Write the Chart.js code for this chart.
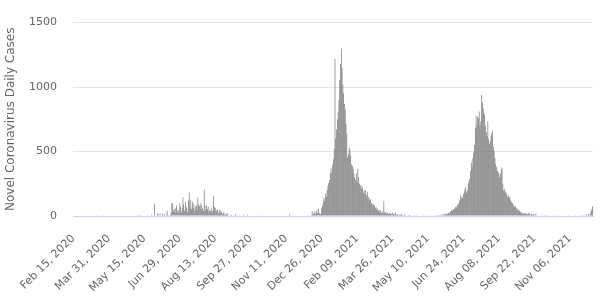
<!DOCTYPE html>
<html>
<head>
<meta charset="utf-8">
<script src="https://cdn.jsdelivr.net/npm/chart.js@4/dist/chart.umd.min.js"></script>
<style>
  html, body { margin: 0; padding: 0; background: #fff; }
  #wrap { width: 610px; height: 299px; }
</style>
</head>
<body>
<div id="wrap"><canvas id="casesChart" width="610" height="299"></canvas></div>
<script>
// first day of the series, one bar per day after it
const startDate = new Date(2020, 1, 15);

const tickLabels = ["Feb 15, 2020", "Mar 31, 2020", "May 15, 2020", "Jun 29, 2020", "Aug 13, 2020",
  "Sep 27, 2020", "Nov 11, 2020", "Dec 26, 2020", "Feb 09, 2021", "Mar 26, 2021", "May 10, 2021",
  "Jun 24, 2021", "Aug 08, 2021", "Sep 22, 2021", "Nov 06, 2021"];

const yTicks = [0, 500, 1000, 1500];

// daily cases, 10 days per row
const dailyCases = [
  0, 0, 0, 0, 0, 0, 0, 0, 0, 0,
  0, 0, 0, 0, 0, 0, 0, 0, 0, 0,
  0, 0, 0, 0, 0, 0, 0, 0, 0, 0,
  0, 1, 0, 0, 0, 0, 0, 0, 2, 0,
  0, 0, 0, 1, 0, 0, 0, 0, 0, 0,
  0, 0, 0, 0, 1, 0, 0, 0, 0, 0,
  0, 0, 0, 0, 0, 0, 2, 0, 0, 0,
  0, 0, 0, 0, 0, 0, 0, 1, 0, 0,
  0, 0, 2, 8, 0, 0, 1, 0, 0, 0,
  0, 0, 0, 0, 1, 0, 0, 0, 3, 10,
  0, 2, 4, 97, 3, 0, 2, 20, 12, 4,
  20, 6, 4, 20, 5, 8, 18, 4, 10, 41,
  5, 8, 3, 10, 25, 100, 95, 40, 55, 30,
  60, 84, 35, 46, 20, 99, 70, 30, 60, 145,
  90, 40, 110, 75, 61, 30, 120, 183, 70, 122,
  55, 110, 60, 92, 40, 70, 84, 50, 145, 90,
  75, 99, 50, 84, 60, 40, 206, 80, 45, 84,
  55, 69, 30, 46, 38, 61, 25, 40, 153, 70,
  61, 30, 45, 50, 20, 40, 46, 25, 33, 15,
  20, 33, 10, 12, 20, 8, 20, 5, 3, 6,
  10, 2, 4, 0, 3, 2, 15, 0, 2, 0,
  0, 1, 0, 0, 0, 0, 12, 0, 0, 0,
  0, 10, 0, 0, 2, 0, 0, 0, 0, 0,
  0, 0, 0, 1, 0, 0, 0, 0, 0, 0,
  0, 0, 2, 0, 0, 0, 0, 0, 0, 0,
  0, 0, 0, 0, 0, 1, 0, 0, 0, 0,
  0, 0, 0, 0, 0, 0, 0, 0, 2, 0,
  0, 0, 0, 0, 15, 0, 0, 0, 0, 0,
  0, 0, 0, 0, 0, 1, 0, 0, 0, 0,
  0, 0, 0, 0, 0, 0, 0, 0, 2, 0,
  0, 2, 5, 38, 10, 22, 30, 15, 33, 45,
  20, 54, 25, 15, 15, 60, 80, 110, 140, 120,
  175, 150, 200, 230, 255, 280, 330, 370, 340, 400,
  440, 520, 1219, 600, 673, 750, 811, 900, 1056, 1180,
  1300, 1150, 1018, 950, 870, 826, 711, 640, 454, 480,
  530, 510, 467, 400, 390, 367, 330, 300, 280, 329,
  260, 367, 300, 252, 230, 240, 210, 224, 180, 200,
  170, 199, 160, 186, 140, 148, 120, 130, 100, 99,
  80, 90, 84, 60, 70, 50, 59, 40, 45, 30,
  46, 25, 35, 20, 115, 30, 25, 20, 30, 22,
  15, 25, 18, 20, 12, 25, 15, 10, 20, 28,
  8, 15, 10, 5, 12, 8, 20, 6, 10, 4,
  12, 8, 3, 6, 0, 5, 2, 8, 0, 4,
  3, 0, 6, 2, 0, 5, 0, 3, 0, 0,
  4, 0, 0, 2, 0, 6, 0, 0, 3, 0,
  0, 5, 0, 2, 0, 0, 4, 0, 3, 6,
  2, 0, 5, 8, 3, 6, 10, 4, 12, 8,
  15, 10, 18, 12, 20, 15, 25, 20, 30, 35,
  46, 40, 55, 50, 59, 70, 65, 80, 97, 90,
  120, 161, 130, 150, 140, 173, 190, 210, 224, 180,
  199, 250, 270, 288, 350, 415, 380, 450, 492, 550,
  680, 773, 700, 773, 760, 811, 700, 735, 939, 880,
  837, 800, 786, 700, 650, 620, 735, 600, 560, 581,
  620, 640, 658, 540, 505, 450, 403, 380, 350, 340,
  327, 300, 330, 360, 377, 250, 199, 210, 180, 190,
  173, 150, 160, 140, 148, 120, 110, 100, 90, 84,
  70, 75, 60, 59, 45, 50, 40, 33, 25, 30,
  20, 22, 18, 25, 15, 20, 12, 22, 25, 15,
  10, 20, 8, 12, 18, 6, 10, 20, 4, 5,
  3, 0, 4, 0, 2, 5, 0, 3, 6, 5,
  4, 0, 2, 0, 0, 3, 0, 0, 2, 0,
  0, 3, 0, 0, 0, 2, 0, 0, 0, 0,
  2, 0, 0, 0, 3, 0, 0, 0, 0, 2,
  0, 0, 0, 3, 0, 0, 0, 2, 0, 0,
  0, 0, 5, 0, 0, 8, 0, 3, 10, 0,
  6, 12, 5, 10, 15, 8, 20, 40, 55, 75
];

const days = dailyCases.map((v, i) => {
  const d = new Date(startDate);
  d.setDate(d.getDate() + i);
  return d.toDateString();
});

const fontFamily = '"DejaVu Sans", "Open Sans", sans-serif';

const ctx = document.getElementById('casesChart').getContext('2d');

const casesChart = new Chart(ctx, {
  type: 'bar',
  data: {
    labels: days,
    datasets: [{
      label: 'Daily Cases',
      data: dailyCases,
      backgroundColor: 'rgb(112, 112, 112)',
      borderWidth: 0,
      barPercentage: 0.85,
      categoryPercentage: 1
    }]
  },
  options: {
    responsive: false,
    animation: false,
    layout: { padding: { top: 20, right: 9, left: 0, bottom: 0 } },
    plugins: {
      legend: { display: false },
      tooltip: { enabled: false }
    },
    scales: {
      x: {
        grid: { display: false },
        border: { display: true, color: '#ccd6eb', width: 1 },
        ticks: {
          autoSkip: false,
          minRotation: 45,
          maxRotation: 45,
          padding: 8,
          color: '#666666',
          font: { family: fontFamily, size: 11 },
          callback: (val, i) => (i % 45 === 0 ? tickLabels[i / 45] : '')
        },
        afterFit: (scale) => { scale.height = 83; }
      },
      y: {
        min: yTicks[0],
        max: yTicks[yTicks.length - 1],
        grid: { color: '#e6e6e6', drawTicks: false },
        border: { display: false },
        ticks: {
          stepSize: 500,
          padding: 16,
          color: '#666666',
          font: { family: fontFamily, size: 11 },
          callback: (v) => String(v)
        },
        title: {
          display: true,
          text: 'Novel Coronavirus Daily Cases',
          color: '#666666',
          font: { family: fontFamily, size: 12 },
          padding: { top: 4, bottom: 4 }
        },
        afterFit: (scale) => { scale.width = 73; }
      }
    }
  }
});
</script>
</body>
</html>
